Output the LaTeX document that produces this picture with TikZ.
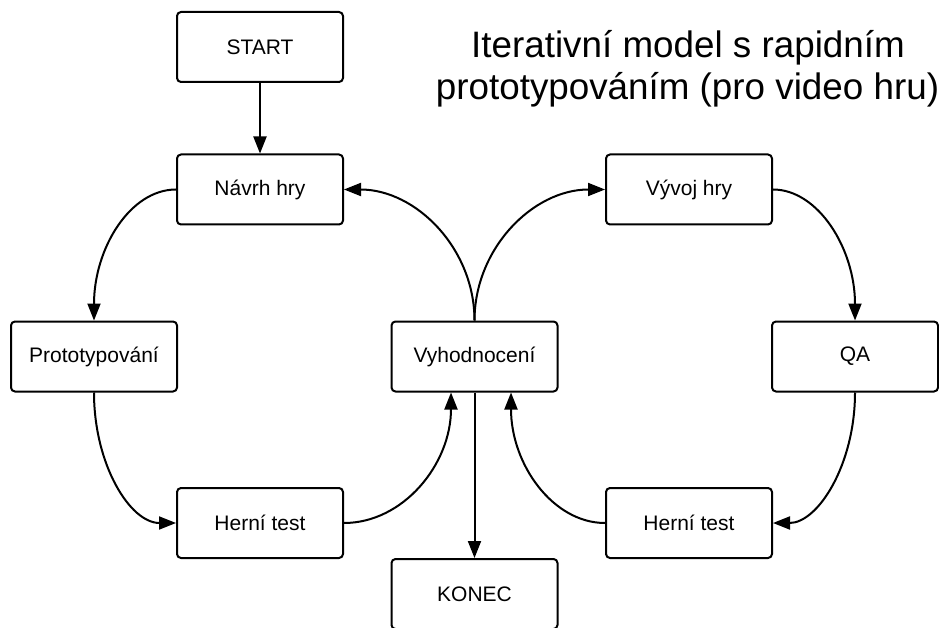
\documentclass[tikz,border=0pt]{standalone}
\usepackage{fontspec}
\setmainfont{Liberation Sans}
\usetikzlibrary{arrows.meta}

\begin{document}
\begin{tikzpicture}[x=1pt,y=-1pt,
  box/.style={draw=black, line width=2pt, rounded corners=4pt,
    minimum width=166pt, minimum height=70pt, inner sep=0pt,
    fill=white, font=\fontsize{21}{25}\selectfont},
  flow/.style={line width=2pt, -{Triangle[length=17pt,width=13pt]}},
  heading/.style={font=\fontsize{36.8}{42}\selectfont, anchor=base, inner sep=0pt}]
\useasboundingbox (0,0) rectangle (939,628);
\fill[white] (0,0) rectangle (939,628);

% title
\node[heading] (title1) at (688,58) {Iterativní model s rapidním};
\node[heading] (title2) at (687.5,100) {prototypováním (pro video hru)};

% process steps
\node[box] (start) at (260,47)    {START};
\node[box] (navrh) at (260,189.5) {Návrh hry};
\node[box] (proto) at (94,356.5)  {Prototypování};
\node[box] (testL) at (260,523)   {Herní test};
\node[box] (vyh)   at (474.5,356.5) {Vyhodnocení};
\node[box] (konec) at (474.5,594) {KONEC};
\node[box] (vyvoj) at (689,189.5) {Vývoj hry};
\node[box] (qa)    at (855,356.5) {QA};
\node[box] (testR) at (689,523)   {Herní test};

% straight connectors
\draw[flow] (start.south) -- (navrh.north);
\draw[flow] (vyh.south) -- (konec.north);

% design loop (left)
\draw[flow] (navrh.west) .. controls +(-46,0) and +(0,-72) .. (proto.north);
\draw[flow] (proto.south) .. controls +(0,72) and +(-46,0) .. (testL.west);
\draw[flow] (testL.east) .. controls +(59,0) and +(0,72) .. ([xshift=-23.5pt]vyh.south);
\draw[flow] (vyh.north) .. controls +(0,-72) and +(72,0) .. (navrh.east);

% development loop (right)
\draw[flow] (vyh.north) .. controls +(0,-72) and +(-72,0) .. (vyvoj.west);
\draw[flow] (vyvoj.east) .. controls +(45,0) and +(0,-72) .. (qa.north);
\draw[flow] (qa.south) .. controls +(0,72) and +(45,0) .. (testR.east);
\draw[flow] (testR.west) .. controls +(-52,0) and +(0,72) .. ([xshift=36.5pt]vyh.south);
\end{tikzpicture}
\end{document}
